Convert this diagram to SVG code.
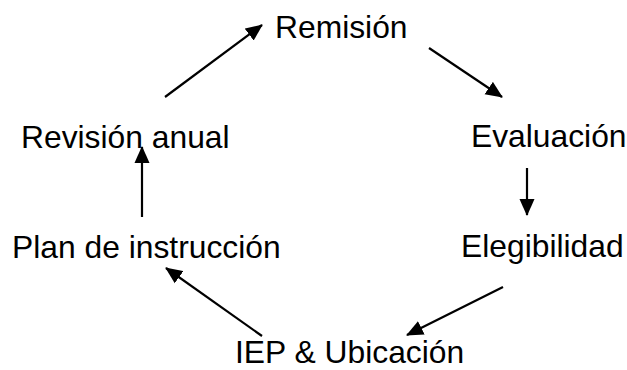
<svg xmlns="http://www.w3.org/2000/svg" width="627" height="370" viewBox="0 0 627 370">
<style>
.t{font-family:"Liberation Sans",Arial,sans-serif;font-size:31.8px;fill:#000}
.c{stroke:#000;stroke-width:2.2;fill:none;marker-end:url(#ah)}
</style>
<defs>
<marker id="ah" markerUnits="userSpaceOnUse" markerWidth="18" markerHeight="16" refX="16" refY="7.5" orient="auto" viewBox="0 0 18 15">
<path d="M0,0 L17,7.5 L0,15 Z" fill="#000"/>
</marker>
</defs>
<rect width="627" height="370" fill="#fff"/>
<g id="n-remision"><text class="t" x="275" y="38">Remisión</text></g>
<g id="n-evaluacion"><text class="t" x="471" y="147">Evaluación</text></g>
<g id="n-elegibilidad"><text class="t" x="461" y="257">Elegibilidad</text></g>
<g id="n-iep"><text class="t" x="235" y="363">IEP &amp; Ubicación</text></g>
<g id="n-plan"><text class="t" x="12" y="258">Plan de instrucción</text></g>
<g id="n-revision"><text class="t" x="21" y="148">Revisión anual</text></g>
<g id="connectors">
<line class="c" x1="165" y1="97" x2="262" y2="25"/>
<line class="c" x1="429" y1="48" x2="502" y2="97"/>
<line class="c" x1="527" y1="168" x2="527" y2="215"/>
<line class="c" x1="503" y1="287" x2="407" y2="335"/>
<line class="c" x1="262" y1="336" x2="166" y2="268"/>
<line class="c" x1="142" y1="217" x2="142" y2="147"/>
</g>
</svg>
